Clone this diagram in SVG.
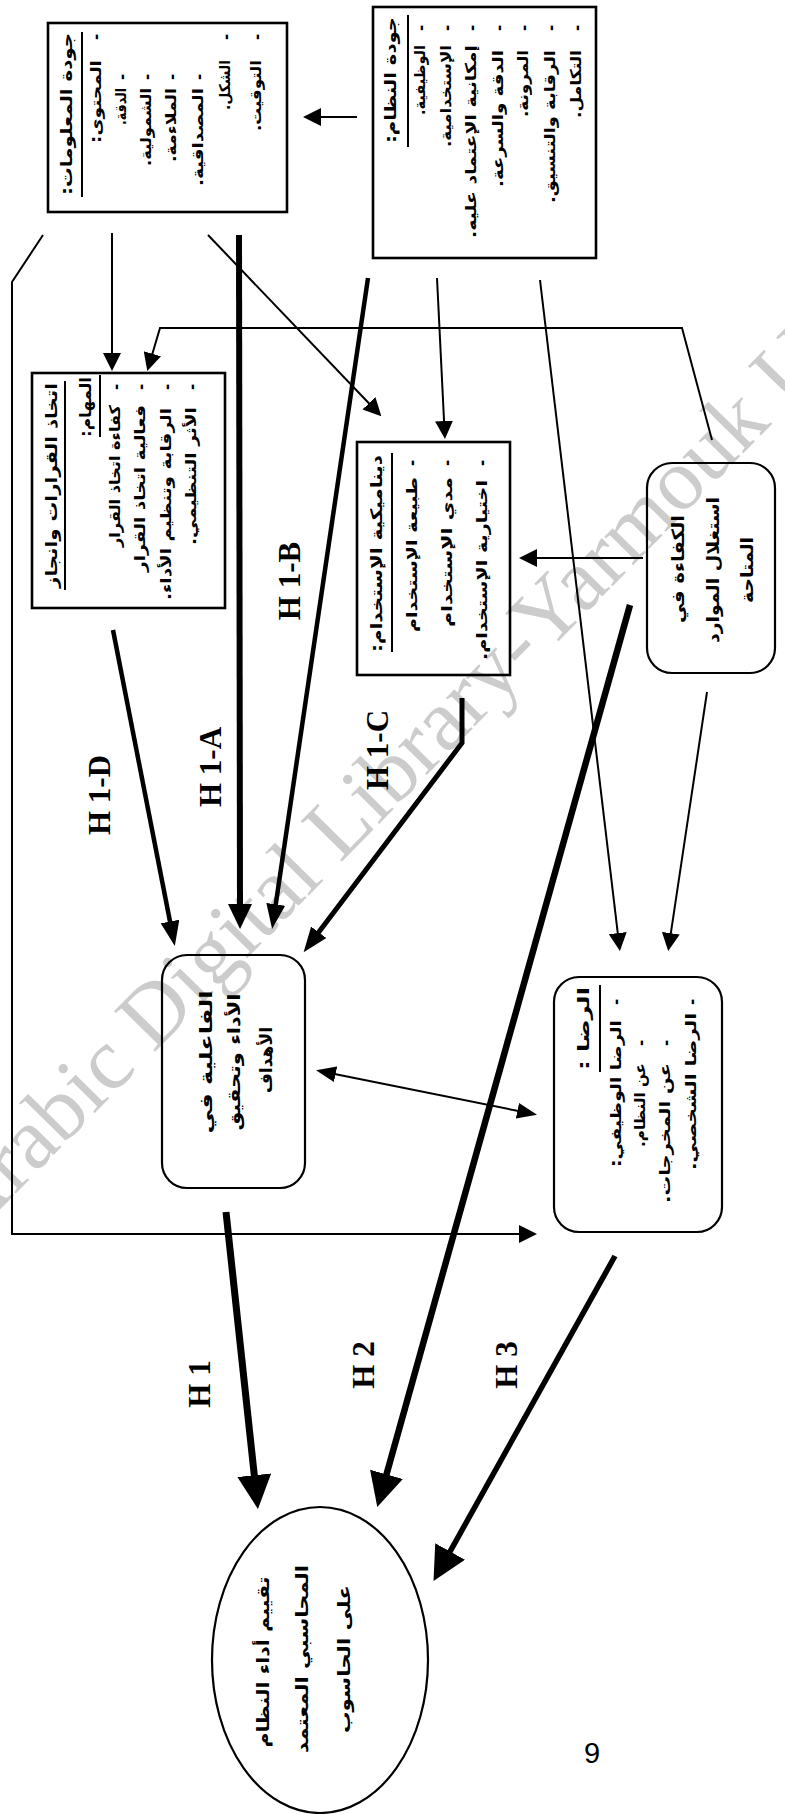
<svg xmlns="http://www.w3.org/2000/svg" width="785" height="1814" viewBox="0 0 785 1814">
<style>
.box{fill:none;stroke:#000;stroke-width:2.6}
.rbox{fill:none;stroke:#000;stroke-width:2.2}
.ul{stroke:#000;stroke-width:2}
.ar{font-family:"DejaVu Sans",sans-serif;font-size:15px;font-weight:bold;fill:#000}
.t{font-size:16px}
.n{font-size:17px}
.h{font-family:"Liberation Serif","Times New Roman",serif;font-weight:bold;font-size:31px;fill:#000}
.thin{fill:none;stroke:#000;stroke-width:2}
.thick{fill:none;stroke:#000;stroke-linejoin:miter}
.wm{font-family:"Liberation Serif",serif;font-size:88px;fill:#cccccc}
.pg{font-family:"Liberation Sans",Arial,sans-serif;font-size:29px;fill:#000}
</style>
<defs>
<marker id="mThin" markerUnits="userSpaceOnUse" markerWidth="18" markerHeight="18" viewBox="0 0 18 18" refX="1" refY="9" orient="auto"><path d="M0,0 L18,9 L0,18 z"/></marker>
<marker id="mTw" markerUnits="userSpaceOnUse" markerWidth="20" markerHeight="16" viewBox="0 0 20 16" refX="1" refY="8" orient="auto"><path d="M0,0 L20,8 L0,16 z"/></marker>
<marker id="mTwS" markerUnits="userSpaceOnUse" markerWidth="20" markerHeight="16" viewBox="0 0 20 16" refX="1" refY="8" orient="auto-start-reverse"><path d="M0,0 L20,8 L0,16 z"/></marker>
<marker id="mMed" markerUnits="userSpaceOnUse" markerWidth="25" markerHeight="19" viewBox="0 0 25 19" refX="1" refY="9.5" orient="auto"><path d="M0,0 L25,9.5 L0,19 z"/></marker>
<marker id="mA" markerUnits="userSpaceOnUse" markerWidth="25" markerHeight="24" viewBox="0 0 25 24" refX="1" refY="12" orient="auto"><path d="M0,0 L25,12 L0,24 z"/></marker>
<marker id="mBig" markerUnits="userSpaceOnUse" markerWidth="34" markerHeight="34" viewBox="0 0 34 34" refX="1" refY="17" orient="auto"><path d="M0,0 L34,17 L0,34 z"/></marker>
</defs>

<rect x="0" y="0" width="785" height="1814" fill="#fff"/>
<text class="wm" transform="translate(-30,1240) rotate(-45.5)">Arabic Digital Library-Yarmouk University</text>

<g id="connectors">
<path class="thin" d="M357,117 L320,117" marker-end="url(#mThin)"/>
<path class="thin" d="M112,233 L112,354" marker-end="url(#mThin)"/>
<path class="thin" d="M712,440 L682,328 L160,328 L152.1,354.7" marker-end="url(#mThin)"/>
<path class="thin" d="M208,235 L369.6,404" marker-end="url(#mThin)"/>
<path class="thin" d="M437,278 L444.1,422" marker-end="url(#mThin)"/>
<path class="thin" d="M540,280 L617.9,934.1" marker-end="url(#mThin)"/>
<path class="thin" d="M707,692 L670.7,934.2" marker-end="url(#mThin)"/>
<path class="thin" d="M643,558 L536,558" marker-end="url(#mThin)"/>
<path class="thin" d="M43,235 L12,282 L12,1234 L520,1234" marker-end="url(#mThin)"/>
<path class="thin" d="M334.6,1074 L518.4,1111" marker-start="url(#mTwS)" marker-end="url(#mTw)"/>
<path class="thick" d="M239,235 L240,905" stroke-width="6" marker-end="url(#mA)"/>
<path class="thick" d="M368,278 L275.6,905.3" stroke-width="4.5" marker-end="url(#mMed)"/>
<path class="thick" d="M113,630 L170.2,922.5" stroke-width="4.5" marker-end="url(#mMed)"/>
<path class="thick" d="M462,698 L462,743 L318.1,933.1" stroke-width="5" marker-end="url(#mMed)"/>
<path class="thick" d="M630,605 L386.2,1475.3" stroke-width="6.5" marker-end="url(#mBig)"/>
<path class="thick" d="M615,1256 L449.6,1552.3" stroke-width="5.5" marker-end="url(#mBig)"/>
<path class="thick" d="M226,1212 L254.4,1476.2" stroke-width="7" marker-end="url(#mBig)"/>
</g>

<g id="labels">
<text class="h" transform="translate(110,795) rotate(-90)" text-anchor="middle">H 1-D</text>
<text class="h" transform="translate(221,767) rotate(-90)" text-anchor="middle">H 1-A</text>
<text class="h" transform="translate(300,581) rotate(-90)" text-anchor="middle">H 1-B</text>
<text class="h" transform="translate(388,750) rotate(-90)" text-anchor="middle">H 1-C</text>
<text class="h" transform="translate(210,1384) rotate(-90)" text-anchor="middle">H 1</text>
<text class="h" transform="translate(374,1365) rotate(-90)" text-anchor="middle">H 2</text>
<text class="h" transform="translate(517,1365) rotate(-90)" text-anchor="middle">H 3</text>
</g>

<g id="info-quality">
<rect class="box" x="48" y="23" width="239" height="189"/>
<text class="ar t" transform="translate(72,33) rotate(-90)" text-anchor="end" textLength="162" lengthAdjust="spacingAndGlyphs">&#x200F;جودة المعلومات:&#x200F;</text>
<line class="ul" x1="82" y1="32" x2="82" y2="197"/>
<text class="ar" transform="translate(101,37) rotate(-90)" text-anchor="middle">-</text>
<text class="ar" transform="translate(101,60) rotate(-90)" text-anchor="end" textLength="83" lengthAdjust="spacingAndGlyphs">&#x200F;المحتوى:&#x200F;</text>
<text class="ar" transform="translate(127,77) rotate(-90)" text-anchor="middle">-</text>
<text class="ar" transform="translate(126,88) rotate(-90)" text-anchor="end" textLength="37" lengthAdjust="spacingAndGlyphs">&#x200F;الدقة.&#x200F;</text>
<text class="ar" transform="translate(152,77) rotate(-90)" text-anchor="middle">-</text>
<text class="ar" transform="translate(151,88) rotate(-90)" text-anchor="end" textLength="78" lengthAdjust="spacingAndGlyphs">&#x200F;الشمولية.&#x200F;</text>
<text class="ar" transform="translate(177,77) rotate(-90)" text-anchor="middle">-</text>
<text class="ar" transform="translate(176,88) rotate(-90)" text-anchor="end" textLength="74" lengthAdjust="spacingAndGlyphs">&#x200F;الملاءمة.&#x200F;</text>
<text class="ar" transform="translate(204,77) rotate(-90)" text-anchor="middle">-</text>
<text class="ar" transform="translate(203,88) rotate(-90)" text-anchor="end" textLength="98" lengthAdjust="spacingAndGlyphs">&#x200F;المصداقية.&#x200F;</text>
<text class="ar" transform="translate(231,37) rotate(-90)" text-anchor="middle">-</text>
<text class="ar" transform="translate(230,60) rotate(-90)" text-anchor="end" textLength="50" lengthAdjust="spacingAndGlyphs">&#x200F;الشكل.&#x200F;</text>
<text class="ar" transform="translate(262,37) rotate(-90)" text-anchor="middle">-</text>
<text class="ar" transform="translate(261,60) rotate(-90)" text-anchor="end" textLength="71" lengthAdjust="spacingAndGlyphs">&#x200F;التوقيت.&#x200F;</text>
</g>

<g id="system-quality">
<rect class="box" x="373" y="7" width="223" height="251"/>
<text class="ar t" transform="translate(396,17) rotate(-90)" text-anchor="end" textLength="126" lengthAdjust="spacingAndGlyphs">&#x200F;جودة النظام:&#x200F;</text>
<line class="ul" x1="408" y1="15" x2="408" y2="147"/>
<text class="ar" transform="translate(426,28) rotate(-90)" text-anchor="middle">-</text>
<text class="ar" transform="translate(425,45) rotate(-90)" text-anchor="end" textLength="70" lengthAdjust="spacingAndGlyphs">&#x200F;الوظيفية.&#x200F;</text>
<text class="ar" transform="translate(452,28) rotate(-90)" text-anchor="middle">-</text>
<text class="ar" transform="translate(451,45) rotate(-90)" text-anchor="end" textLength="102" lengthAdjust="spacingAndGlyphs">&#x200F;الإستخدامية.&#x200F;</text>
<text class="ar" transform="translate(477,28) rotate(-90)" text-anchor="middle">-</text>
<text class="ar" transform="translate(476,45) rotate(-90)" text-anchor="end" textLength="193" lengthAdjust="spacingAndGlyphs">&#x200F;إمكانية الإعتماد عليه.&#x200F;</text>
<text class="ar" transform="translate(504,28) rotate(-90)" text-anchor="middle">-</text>
<text class="ar" transform="translate(503,50) rotate(-90)" text-anchor="end" textLength="137" lengthAdjust="spacingAndGlyphs">&#x200F;الدقة والسرعة.&#x200F;</text>
<text class="ar" transform="translate(529,28) rotate(-90)" text-anchor="middle">-</text>
<text class="ar" transform="translate(528,50) rotate(-90)" text-anchor="end" textLength="67" lengthAdjust="spacingAndGlyphs">&#x200F;المرونة.&#x200F;</text>
<text class="ar" transform="translate(556,28) rotate(-90)" text-anchor="middle">-</text>
<text class="ar" transform="translate(555,50) rotate(-90)" text-anchor="end" textLength="153" lengthAdjust="spacingAndGlyphs">&#x200F;الرقابة والتنسيق.&#x200F;</text>
<text class="ar" transform="translate(582,28) rotate(-90)" text-anchor="middle">-</text>
<text class="ar" transform="translate(581,50) rotate(-90)" text-anchor="end" textLength="68" lengthAdjust="spacingAndGlyphs">&#x200F;التكامل.&#x200F;</text>
</g>

<g id="decision-making">
<rect class="box" x="32" y="373" width="193" height="235"/>
<text class="ar t" transform="translate(57,383) rotate(-90)" text-anchor="end" textLength="205" lengthAdjust="spacingAndGlyphs">&#x200F;اتخاذ القرارات وانجاز&#x200F;</text>
<line class="ul" x1="65" y1="381" x2="65" y2="590"/>
<text class="ar t" transform="translate(91,377) rotate(-90)" text-anchor="end" textLength="60" lengthAdjust="spacingAndGlyphs">&#x200F;المهام:&#x200F;</text>
<line class="ul" x1="100" y1="375" x2="100" y2="437"/>
<text class="ar" transform="translate(121,387) rotate(-90)" text-anchor="middle">-</text>
<text class="ar" transform="translate(120,405) rotate(-90)" text-anchor="end" textLength="142" lengthAdjust="spacingAndGlyphs">&#x200F;كفاءة اتخاذ القرار&#x200F;</text>
<text class="ar" transform="translate(146,387) rotate(-90)" text-anchor="middle">-</text>
<text class="ar" transform="translate(145,405) rotate(-90)" text-anchor="end" textLength="167" lengthAdjust="spacingAndGlyphs">&#x200F;فعالية اتخاذ القرار&#x200F;</text>
<text class="ar" transform="translate(172,387) rotate(-90)" text-anchor="middle">-</text>
<text class="ar" transform="translate(171,408) rotate(-90)" text-anchor="end" textLength="192" lengthAdjust="spacingAndGlyphs">&#x200F;الرقابة وتنظيم الأداء.&#x200F;</text>
<text class="ar" transform="translate(197,387) rotate(-90)" text-anchor="middle">-</text>
<text class="ar" transform="translate(196,407) rotate(-90)" text-anchor="end" textLength="138" lengthAdjust="spacingAndGlyphs">&#x200F;الأثر التنظيمي.&#x200F;</text>
</g>

<g id="use-dynamics">
<rect class="box" x="357" y="442" width="153" height="233"/>
<text class="ar t" transform="translate(382,455) rotate(-90)" text-anchor="end" textLength="197" lengthAdjust="spacingAndGlyphs">&#x200F;ديناميكية الإستخدام:&#x200F;</text>
<line class="ul" x1="392" y1="453" x2="392" y2="652"/>
<text class="ar" transform="translate(417,463) rotate(-90)" text-anchor="middle">-</text>
<text class="ar" transform="translate(417,477) rotate(-90)" text-anchor="end" textLength="155" lengthAdjust="spacingAndGlyphs">&#x200F;طبيعة الإستخدام&#x200F;</text>
<text class="ar" transform="translate(452,463) rotate(-90)" text-anchor="middle">-</text>
<text class="ar" transform="translate(452,477) rotate(-90)" text-anchor="end" textLength="150" lengthAdjust="spacingAndGlyphs">&#x200F;مدي الإستخدام&#x200F;</text>
<text class="ar" transform="translate(487,463) rotate(-90)" text-anchor="middle">-</text>
<text class="ar" transform="translate(487,480) rotate(-90)" text-anchor="end" textLength="180" lengthAdjust="spacingAndGlyphs">&#x200F;اختيارية الإستخدام.&#x200F;</text>
</g>

<g id="efficiency">
<rect class="rbox" x="647" y="463" width="128" height="210" rx="25" ry="25"/>
<text class="ar n" transform="translate(684,569) rotate(-90)" text-anchor="middle" textLength="108" lengthAdjust="spacingAndGlyphs">&#x200F;الكفاءة في&#x200F;</text>
<text class="ar n" transform="translate(719,570) rotate(-90)" text-anchor="middle" textLength="146" lengthAdjust="spacingAndGlyphs">&#x200F;استغلال الموارد&#x200F;</text>
<text class="ar n" transform="translate(753,570) rotate(-90)" text-anchor="middle" textLength="66" lengthAdjust="spacingAndGlyphs">&#x200F;المتاحة&#x200F;</text>
</g>

<g id="effectiveness">
<rect class="rbox" x="162" y="955" width="143" height="233" rx="25" ry="25"/>
<text class="ar n" transform="translate(212,1062) rotate(-90)" text-anchor="middle" textLength="143" lengthAdjust="spacingAndGlyphs">&#x200F;الفاعلية في&#x200F;</text>
<text class="ar n" transform="translate(240,1062) rotate(-90)" text-anchor="middle" textLength="137" lengthAdjust="spacingAndGlyphs">&#x200F;الأداء وتحقيق&#x200F;</text>
<text class="ar n" transform="translate(272,1060) rotate(-90)" text-anchor="middle" textLength="66" lengthAdjust="spacingAndGlyphs">&#x200F;الأهداف&#x200F;</text>
</g>

<g id="satisfaction">
<rect class="rbox" x="554" y="977" width="168" height="255" rx="25" ry="25"/>
<text class="ar t" transform="translate(589,987) rotate(-90)" text-anchor="end" textLength="83" lengthAdjust="spacingAndGlyphs">&#x200F;الرضا :&#x200F;</text>
<line class="ul" x1="600" y1="985" x2="600" y2="1072"/>
<text class="ar" transform="translate(621,1002) rotate(-90)" text-anchor="middle">-</text>
<text class="ar" transform="translate(621,1020) rotate(-90)" text-anchor="end" textLength="147" lengthAdjust="spacingAndGlyphs">&#x200F;الرضا الوظيفي:&#x200F;</text>
<text class="ar" transform="translate(646,1043) rotate(-90)" text-anchor="middle">-</text>
<text class="ar" transform="translate(645,1063) rotate(-90)" text-anchor="end" textLength="84" lengthAdjust="spacingAndGlyphs">&#x200F;عن النظام.&#x200F;</text>
<text class="ar" transform="translate(671,1043) rotate(-90)" text-anchor="middle">-</text>
<text class="ar" transform="translate(670,1063) rotate(-90)" text-anchor="end" textLength="140" lengthAdjust="spacingAndGlyphs">&#x200F;عن المخرجات.&#x200F;</text>
<text class="ar" transform="translate(697,1002) rotate(-90)" text-anchor="middle">-</text>
<text class="ar" transform="translate(696,1013) rotate(-90)" text-anchor="end" textLength="157" lengthAdjust="spacingAndGlyphs">&#x200F;الرضا الشخصي.&#x200F;</text>
</g>

<g id="evaluation">
<ellipse class="rbox" cx="320" cy="1660" rx="108" ry="153"/>
<text class="ar n" transform="translate(269,1662) rotate(-90)" text-anchor="middle" textLength="171" lengthAdjust="spacingAndGlyphs">&#x200F;تقييم أداء النظام&#x200F;</text>
<text class="ar n" transform="translate(308,1659) rotate(-90)" text-anchor="middle" textLength="188" lengthAdjust="spacingAndGlyphs">&#x200F;المحاسبي المعتمد&#x200F;</text>
<text class="ar n" transform="translate(350,1659) rotate(-90)" text-anchor="middle" textLength="148" lengthAdjust="spacingAndGlyphs">&#x200F;على الحاسوب&#x200F;</text>
</g>

<text class="pg" x="592" y="1763" text-anchor="middle">9</text>
</svg>
